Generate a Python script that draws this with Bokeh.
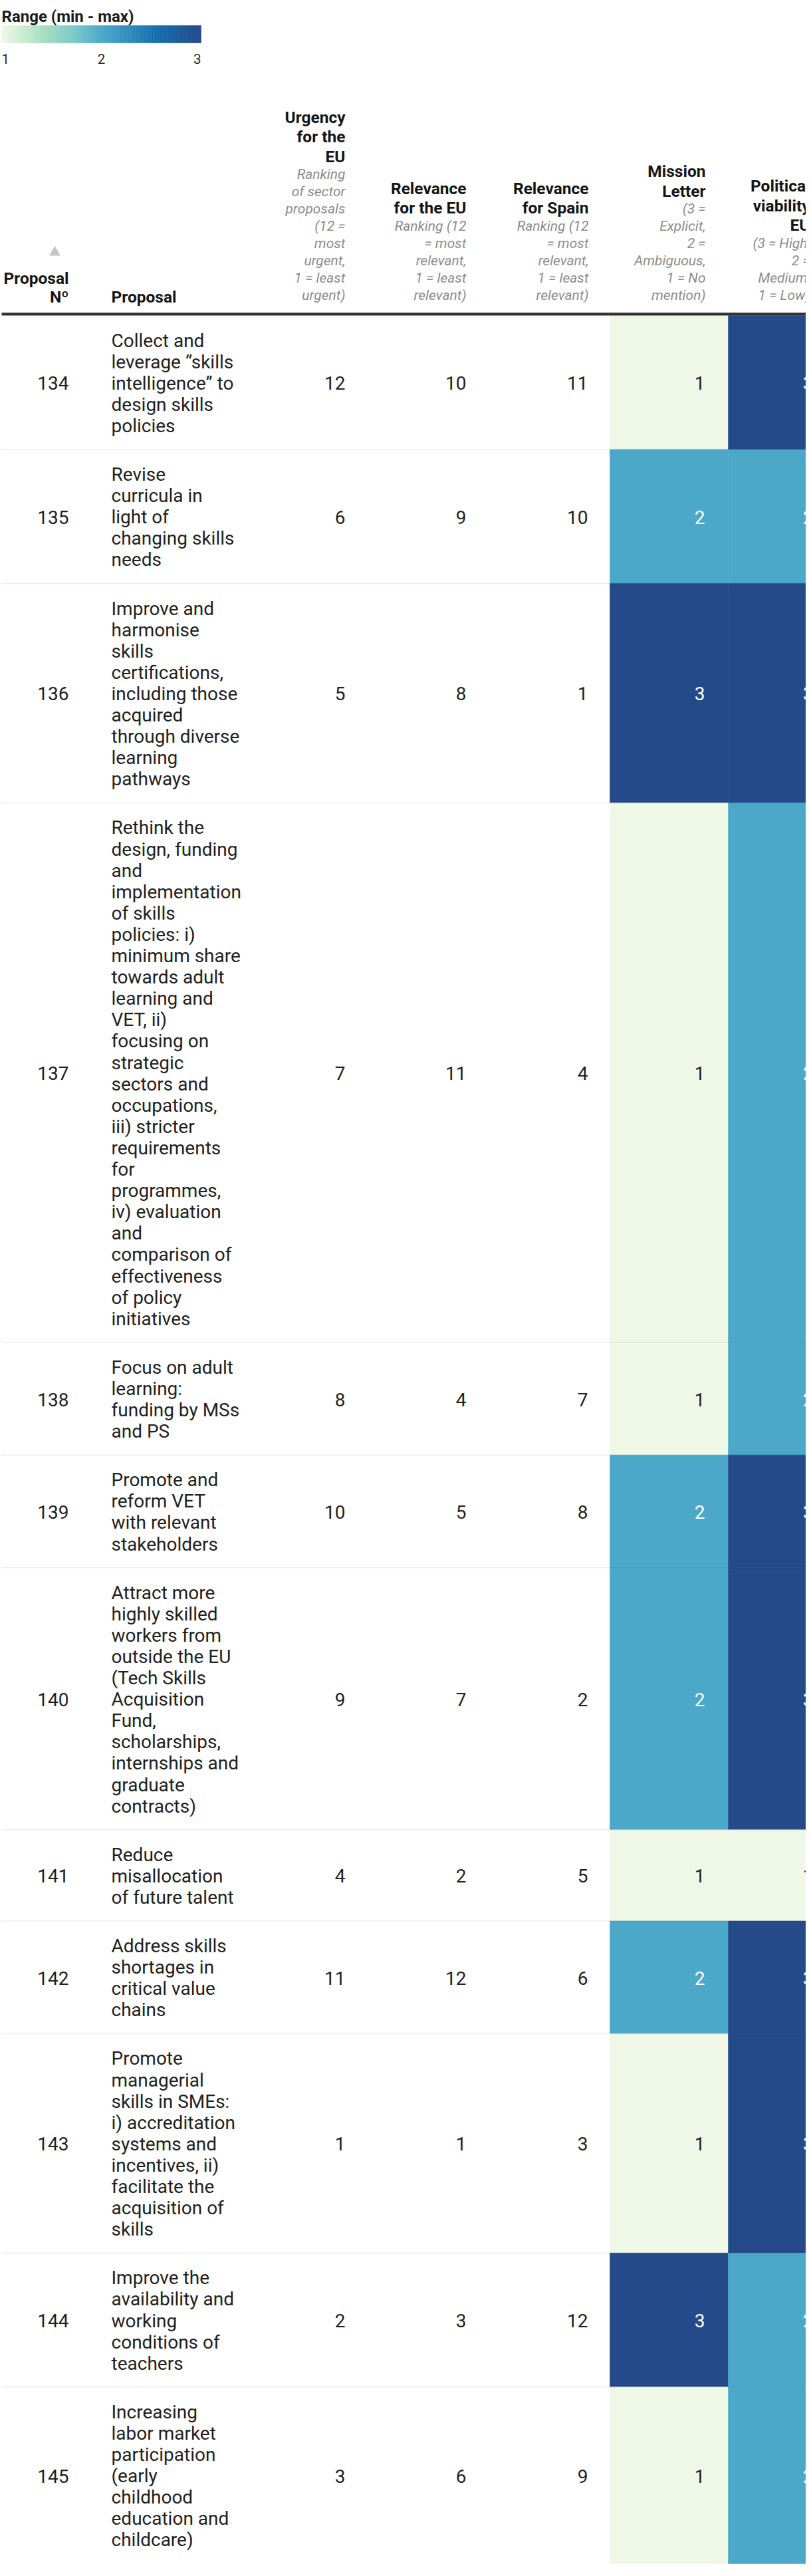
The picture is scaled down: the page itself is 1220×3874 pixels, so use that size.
import numpy as np
from bokeh.plotting import figure
from bokeh.models import ColumnDataSource, Range1d
from bokeh.transform import linear_cmap
from bokeh.core.properties import value
from bokeh.embed import file_html
from bokeh.resources import INLINE

# ---------------- data ----------------
proposal_no = [134, 135, 136, 137, 138, 139, 140, 141, 142, 143, 144, 145]
proposal_lines = [
    ["Collect and", "leverage \u201cskills", "intelligence\u201d to", "design skills", "policies"],
    ["Revise", "curricula in", "light of", "changing skills", "needs"],
    ["Improve and", "harmonise", "skills", "certifications,", "including those", "acquired",
     "through diverse", "learning", "pathways"],
    ["Rethink the", "design, funding", "and", "implementation", "of skills", "policies: i)",
     "minimum share", "towards adult", "learning and", "VET, ii)", "focusing on", "strategic",
     "sectors and", "occupations,", "iii) stricter", "requirements", "for", "programmes,",
     "iv) evaluation", "and", "comparison of", "effectiveness", "of policy", "initiatives"],
    ["Focus on adult", "learning:", "funding by MSs", "and PS"],
    ["Promote and", "reform VET", "with relevant", "stakeholders"],
    ["Attract more", "highly skilled", "workers from", "outside the EU", "(Tech Skills",
     "Acquisition", "Fund,", "scholarships,", "internships and", "graduate", "contracts)"],
    ["Reduce", "misallocation", "of future talent"],
    ["Address skills", "shortages in", "critical value", "chains"],
    ["Promote", "managerial", "skills in SMEs:", "i) accreditation", "systems and",
     "incentives, ii)", "facilitate the", "acquisition of", "skills"],
    ["Improve the", "availability and", "working", "conditions of", "teachers"],
    ["Increasing", "labor market", "participation", "(early", "childhood", "education and",
     "childcare)"],
]
urgency_eu = [12, 6, 5, 7, 8, 10, 9, 4, 11, 1, 2, 3]
relevance_eu = [10, 9, 8, 11, 4, 5, 7, 2, 12, 1, 3, 6]
relevance_es = [11, 10, 1, 4, 7, 8, 2, 5, 6, 3, 12, 9]
mission_letter = [1, 2, 3, 1, 1, 2, 2, 1, 2, 1, 3, 1]
political_viability = [3, 2, 3, 2, 2, 3, 3, 1, 3, 3, 2, 2]

legend_title = "Range (min - max)"
legend_ticks = [1, 2, 3]

hdr_num = ["Proposal", "N\u00ba"]
hdr_prop = "Proposal"
hdr_urg_b = ["Urgency", "for the", "EU"]
hdr_urg_i = ["Ranking", "of sector", "proposals", "(12 =", "most", "urgent,", "1 = least", "urgent)"]
hdr_reu_b = ["Relevance", "for the EU"]
hdr_reu_i = ["Ranking (12", "= most", "relevant,", "1 = least", "relevant)"]
hdr_res_b = ["Relevance", "for Spain"]
hdr_res_i = ["Ranking (12", "= most", "relevant,", "1 = least", "relevant)"]
hdr_ml_b = ["Mission", "Letter"]
hdr_ml_i = ["(3 =", "Explicit,", "2 =", "Ambiguous,", "1 = No", "mention)"]
hdr_pv_b = ["Political", "viability", "EU"]
hdr_pv_i = ["(3 = High,", "2 =", "Medium,", "1 = Low)"]

# ---------------- palette ----------------
anchors = [(0.00, "#eff8e7"), (0.20, "#a9debf"), (0.36, "#79c8c5"), (0.50, "#4ba8c9"),
           (0.78, "#156eac"), (1.00, "#244a89")]
def _rgb(h):
    return np.array([int(h[i:i + 2], 16) for i in (1, 3, 5)], dtype=float)
palette = []
for t in np.linspace(0, 1, 256):
    for k in range(len(anchors) - 1):
        t0, c0 = anchors[k]
        t1, c1 = anchors[k + 1]
        if t0 <= t <= t1:
            f = (t - t0) / (t1 - t0)
            c = _rgb(c0) * (1 - f) + _rgb(c1) * f
            palette.append("#%02x%02x%02x" % tuple(int(round(v)) for v in c))
            break

# ---------------- layout ----------------
OFF = 8
W, H = 1212, 3858
def X(px):
    return px - OFF
def Y(py):
    return py - OFF

FONT = value("Roboto")
LH = 32.1
PAD = 20.5
row_top0 = 482

p = figure(width=W, height=H, x_range=Range1d(0, W), y_range=Range1d(H, 0),
           output_backend="svg", toolbar_location=None,
           x_axis_location=None, y_axis_location=None, min_border=0,
           outline_line_color=None, background_fill_color="white",
           border_fill_color="white")
p.xgrid.visible = False
p.ygrid.visible = False

n_lines = [len(l) for l in proposal_lines]
heights = [n * LH + 2 * PAD for n in n_lines]
tops = [row_top0 + sum(heights[:i]) for i in range(len(heights))]
bottoms = [t + h for t, h in zip(tops, heights)]
mids = [(t + b) / 2 for t, b in zip(tops, bottoms)]

# colored cells
cell_cols = [(925, 1103, mission_letter), (1103, 1300, political_viability)]
for left, right, vals in cell_cols:
    src = ColumnDataSource(dict(
        left=[X(left)] * len(vals), right=[X(right)] * len(vals),
        top=[Y(t) for t in tops], bottom=[Y(b) for b in bottoms], v=vals))
    cm = linear_cmap("v", palette, 1, 3)
    p.quad(left="left", right="right", top="top", bottom="bottom", source=src,
           fill_color=cm, line_color=cm, line_width=0.5)

# row separators
p.segment(x0=[X(10)] * (len(bottoms) - 1), x1=[W + 10] * (len(bottoms) - 1),
          y0=[Y(b) for b in bottoms[:-1]], y1=[Y(b) for b in bottoms[:-1]],
          line_color="black", line_alpha=0.07, line_width=1.5)

# header line
p.segment(x0=[X(10)], x1=[W + 10], y0=[Y(479.8)], y1=[Y(479.8)],
          line_color="#333333", line_width=4.3)

# ---------------- body text ----------------
BODY = "28px"
lx, ly, lt = [], [], []
for i, lines in enumerate(proposal_lines):
    for j, s in enumerate(lines):
        lx.append(X(175))
        ly.append(Y(tops[i] + PAD + (j + 0.5) * LH + 1))
        lt.append(s)
p.text(x=lx, y=ly, text=lt, text_font=FONT, text_font_size=BODY, text_color="#212121",
       text_align="left", text_baseline="middle")

value_cols = [(111, proposal_no), (527, urgency_eu), (709, relevance_eu), (892, relevance_es)]
vx, vy, vt = [], [], []
for xr, vals in value_cols:
    for i, v in enumerate(vals):
        vx.append(X(xr)); vy.append(Y(mids[i] + 1)); vt.append(str(v))
p.text(x=vx, y=vy, text=vt, text_font=FONT, text_font_size=BODY, text_color="#212121",
       text_align="right", text_baseline="middle")

for xr, vals in [(1068, mission_letter), (1231, political_viability)]:
    src = ColumnDataSource(dict(
        x=[X(xr)] * len(vals), y=[Y(m + 1) for m in mids], t=[str(v) for v in vals],
        c=["#ffffff" if v >= 2 else "#212121" for v in vals]))
    p.text(x="x", y="y", text="t", text_color="c", source=src, text_font=FONT,
           text_font_size=BODY, text_align="right", text_baseline="middle")

# ---------------- header text ----------------
HB = "24.5px"
HI = "21px"
IT_LAST = 451.0
IT_LH = 25.9
GAP = 27.0
B_LH = 29.6

bx, by, bt, ix, iy, it = [], [], [], [], [], []
for xr, bl, il in [(527, hdr_urg_b, hdr_urg_i), (709, hdr_reu_b, hdr_reu_i),
                   (893, hdr_res_b, hdr_res_i), (1069, hdr_ml_b, hdr_ml_i),
                   (1226, hdr_pv_b, hdr_pv_i)]:
    n_i = len(il)
    first_i = IT_LAST - (n_i - 1) * IT_LH
    for k, s in enumerate(il):
        ix.append(X(xr)); iy.append(Y(first_i + k * IT_LH)); it.append(s)
    last_b = first_i - GAP
    n_b = len(bl)
    for k, s in enumerate(bl):
        bx.append(X(xr)); by.append(Y(last_b - (n_b - 1 - k) * B_LH)); bt.append(s)
for k, s in enumerate(hdr_num):
    bx.append(X(111)); by.append(Y(454 - (len(hdr_num) - 1 - k) * 28.5)); bt.append(s)

p.text(x=bx, y=by, text=bt, text_font=FONT, text_font_size=HB, text_font_style="bold",
       text_color="#151515", text_align="right", text_baseline="alphabetic")
p.text(x=ix, y=iy, text=it, text_font=FONT, text_font_size=HI, text_font_style="italic",
       text_color="#8c8c8c", text_align="right", text_baseline="alphabetic")
p.text(x=[X(175)], y=[Y(454)], text=[hdr_prop], text_font=FONT, text_font_size=HB,
       text_font_style="bold", text_color="#151515", text_align="left",
       text_baseline="alphabetic")

# sort indicator
p.scatter(x=[X(90)], y=[Y(387)], marker="triangle", size=17, fill_color="#c6c6c6",
          line_color=None)

# ---------------- legend ----------------
p.text(x=[X(10)], y=[Y(32)], text=[legend_title], text_font=FONT, text_font_size="24px",
       text_font_style="bold", text_color="#1a1a1a", text_align="left",
       text_baseline="alphabetic")
NSEG = 200
edges = np.linspace(X(10), X(310), NSEG + 1)
lvals = np.linspace(legend_ticks[0], legend_ticks[-1], NSEG)
lsrc = ColumnDataSource(dict(left=edges[:-1], right=edges[1:], v=lvals,
                             top=[Y(46)] * NSEG, bottom=[Y(72)] * NSEG))
lcm = linear_cmap("v", palette, 1, 3)
p.quad(left="left", right="right", top="top", bottom="bottom", source=lsrc,
       fill_color=lcm, line_color=lcm, line_width=0.5)
tick_x = [X(10), X(160), X(310)]
p.text(x=tick_x, y=[Y(95.5)] * 3, text=[str(t) for t in legend_ticks], text_font=FONT,
       text_font_size="20.5px", text_color="#2a2a2a", text_align=["left", "center", "right"],
       text_baseline="alphabetic")

open("out.html", "w").write(file_html(p, INLINE))
